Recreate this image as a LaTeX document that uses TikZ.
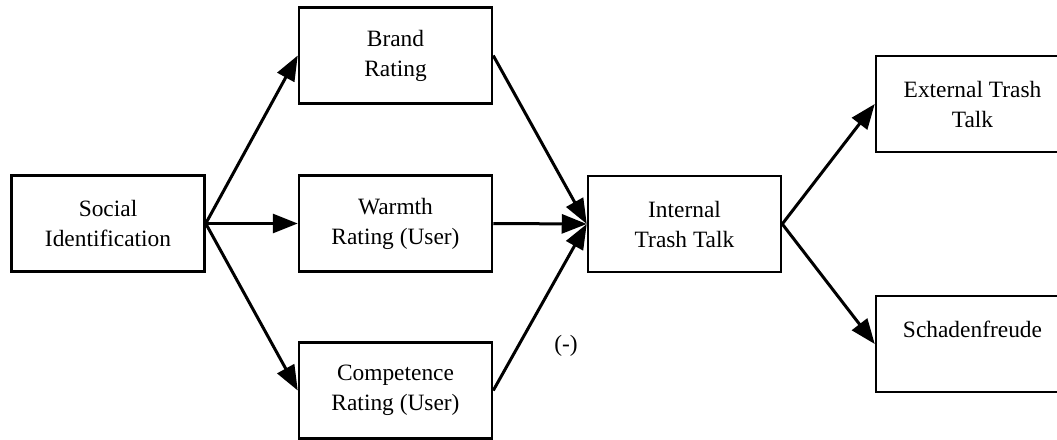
\documentclass[tikz,border=0pt]{standalone}
\usepackage{fontspec}
\setmainfont{Liberation Serif}
\usetikzlibrary{arrows.meta}
\begin{document}
\begin{tikzpicture}[x=1pt,y=-1pt,
  box/.style={draw=black, line width=2.5pt, minimum width=193pt, minimum height=96pt,
    align=center, inner sep=0pt, font=\fontsize{23.4}{30}\selectfont},
  link/.style={line width=3pt, -{Triangle[length=25pt,width=19pt]}},
  sign/.style={font=\fontsize{23.4}{30}\selectfont, inner sep=0pt}]
  \useasboundingbox (0,0) rectangle (1057,439);
  % nodes
  \node[box] (si)  at (108,223.5) {Social\\Identification};
  \node[box] (br)  at (395.5,55.5) {Brand\\Rating};
  \node[box] (wa)  at (395.5,223.5) {Warmth\\Rating (User)};
  \node[box] (co)  at (395.5,390.5) {Competence\\Rating (User)};
  \node[box] (itt) at (684.5,224) {Internal\\Trash Talk};
  \node[box] (ext) at (972.5,104) {External Trash\\Talk};
  \node[box] (sch) at (972.5,344) {Schadenfreude\\\mbox{}};
  % connectors
  \draw[link] (si.east) -- (br.west);
  \draw[link] (si.east) -- (wa.west);
  \draw[link] (si.east) -- (co.west);
  \draw[link] (br.east) -- (itt.west);
  \draw[link] (wa.east) -- (itt.west);
  \draw[link] (co.east) -- (itt.west);
  \draw[link] (itt.east) -- (ext.west);
  \draw[link] (itt.east) -- (sch.west);
  \node[sign] (neg) at (566,346) {(-)};
\end{tikzpicture}
\end{document}
